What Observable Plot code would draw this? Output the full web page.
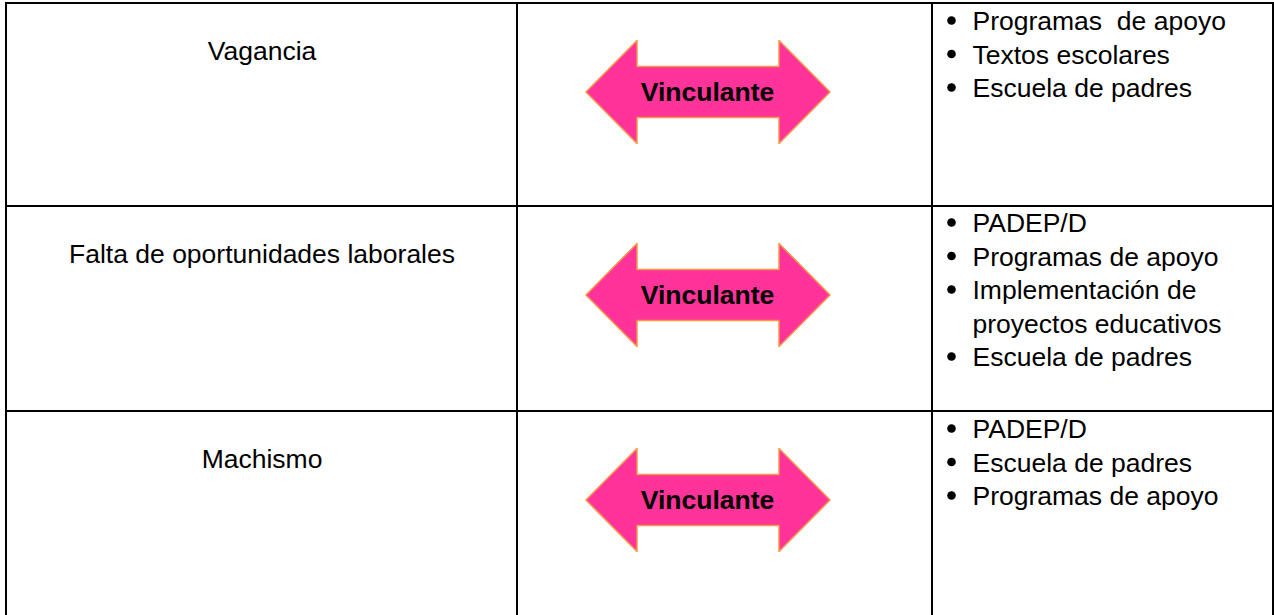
<!DOCTYPE html>
<html><head><meta charset="utf-8">
<style>
html,body{margin:0;padding:0;background:#fff;}
svg text{white-space:pre;}
</style>
<script src="https://cdn.jsdelivr.net/npm/d3@7"></script>
<script src="https://cdn.jsdelivr.net/npm/@observablehq/plot@0.6"></script>
</head><body><div id="chart"></div>
<script>
// ---- data ----
const factors = ["Vagancia", "Falta de oportunidades laborales", "Machismo"];
const linkLabels = ["Vinculante", "Vinculante", "Vinculante"];
const actionsVagancia = ["Programas  de apoyo", "Textos escolares", "Escuela de padres"];
const actionsFalta = ["PADEP/D", "Programas de apoyo", "Implementación de\nproyectos educativos", "Escuela de padres"];
const actionsMachismo = ["PADEP/D", "Escuela de padres", "Programas de apoyo"];
const actions = [actionsVagancia, actionsFalta, actionsMachismo];

// ---- layout ----
const W = 1274, H = 615;
const colEdges = [6, 517, 932, 1273];
const rowLines = [3, 206, 411];
const listFirstBaseline = [29.5, 231.5, 437.5];
const lineStep = 33.5;
const font = "'Liberation Sans', Arial, sans-serif";
const fs = 26.5;

const listLines = [];
actions.forEach((items, r) => {
  let k = 0;
  items.forEach(item => {
    item.split("\n").forEach((t, j) => {
      listLines.push({row: r, line: k, text: t, bullet: j === 0, y: listFirstBaseline[r] + k * lineStep});
      k++;
    });
  });
});

const arrowData = [];
linkLabels.forEach((lab, i) => {
  const c = rowLines[i] + 89;
  [[586, 0], [637, 51.5], [637, 25.5], [779, 25.5], [779, 51.5], [830, 0]].forEach(([x, h]) => {
    arrowData.push({row: i, x, y1: c - h, y2: c + h});
  });
});

const svg = Plot.plot({
  width: W, height: H,
  marginTop: 0, marginRight: 0, marginBottom: 0, marginLeft: 0,
  x: {type: "linear", domain: [0, W], range: [0, W], axis: null},
  y: {type: "linear", domain: [0, H], range: [0, H], axis: null},
  style: {background: "#fff"},
  marks: [
    Plot.areaY(arrowData, {x: "x", y1: "y1", y2: "y2", z: "row", curve: "linear",
      fill: "#ff3399", stroke: "#f79646", strokeWidth: 1.5}),
    Plot.ruleX(colEdges, {x: d => d - 0.5, y1: 2, y2: H, stroke: "black", strokeWidth: 2}),
    Plot.ruleY(rowLines, {y: d => d - 0.5, x1: 5, x2: W, stroke: "black", strokeWidth: 2}),
    Plot.text(factors, {x: (colEdges[0] + colEdges[1]) / 2, y: (d, i) => rowLines[i] + 56, text: d => d,
      textAnchor: "middle", lineAnchor: "bottom", fontSize: fs, fontFamily: font, fill: "black"}),
    Plot.text(linkLabels, {x: 707, y: (d, i) => rowLines[i] + 89, text: d => d,
      textAnchor: "middle", lineAnchor: "middle", fontSize: fs, fontWeight: "bold", fontFamily: font, fill: "black"}),
    Plot.dot(listLines.filter(d => d.bullet), {x: 951, y: d => d.y - 9.5, r: 4.3, fill: "black", stroke: null}),
    Plot.text(listLines, {x: 972, y: "y", text: "text",
      textAnchor: "start", lineAnchor: "bottom", fontSize: fs, fontFamily: font, fill: "black"})
  ]
});

document.getElementById("chart").appendChild(svg);
</script>
</body></html>
